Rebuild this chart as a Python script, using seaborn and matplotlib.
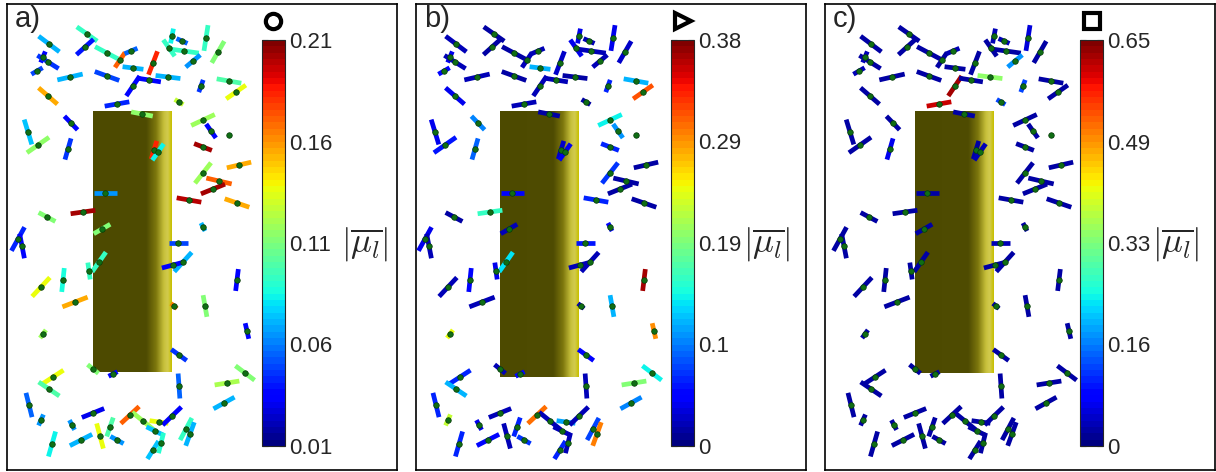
import numpy as np
import matplotlib
matplotlib.use("Agg")
import matplotlib.pyplot as plt
import seaborn as sns
from matplotlib.collections import LineCollection
from matplotlib.colors import Normalize, LinearSegmentedColormap
from matplotlib.cm import ScalarMappable

# dipole centres (pixel coords of panel a), orientation (deg) and projected length (px)
seg_x = [49, 87, 85, 107, 120, 131, 153, 133, 43, 48, 37, 70, 107, 133, 149, 168,
         172, 182, 169, 184, 206, 218, 193, 201, 229, 236, 179, 48, 117, 142, 71, 28,
         38, 68, 203, 211, 229, 203, 154, 158, 105, 83, 47, 102, 18, 22, 99, 89,
         63, 41, 75, 203, 239, 219, 213, 189, 237, 203, 178, 183, 173, 237, 205, 174,
         43, 247, 179, 93, 113, 53, 49, 179, 245, 227, 29, 224, 93, 130, 143, 159,
         172, 41, 72, 100, 110, 117, 81, 52, 155, 161, 153, 186, 190]
seg_y = [44, 34, 47, 53, 60, 51, 63, 68, 57, 62, 71, 77, 76, 86, 80, 77,
         36, 41, 48, 51, 38, 52, 61, 86, 81, 92, 102, 96, 104, 114, 123, 132,
         145, 149, 120, 131, 135, 147, 150, 152, 193, 212, 217, 229, 239, 246, 262, 271,
         280, 287, 302, 173, 165, 181, 189, 200, 203, 227, 243, 262, 265, 280, 306, 306,
         334, 331, 355, 369, 374, 377, 389, 386, 373, 383, 405, 403, 413, 415, 421, 422,
         416, 420, 425, 436, 427, 440, 440, 444, 431, 443, 450, 429, 434]
seg_ang = [-37, -35, 42, -28, 56, 23, 69, -7, 67, -32, 30, 13, -20, 56, -9, -7,
           79, -24, -55, -8, 81, 60, 40, 70, -10, 35, -31, -41, 10, -11, -46, -73,
           35, 74, 25, -55, 0, -21, 73, 55, 0, 8, -28, 30, 61, -79, 55, -82,
           84, 47, 21, 52, 13, -13, 22, -10, -19, -63, 0, 48, 15, 83, -80, -40,
           54, -77, -36, -39, 27, 33, -34, -86, -37, 9, -76, 29, 22, 43, -39, -8,
           44, 66, -62, -75, 71, -29, 27, 74, -26, 76, 58, 62, 70]
seg_len = [26, 25, 23, 27, 18, 14, 25, 21, 12, 25, 13, 26, 26, 24, 24, 25,
           15, 12, 20, 30, 26, 25, 19, 13, 25, 24, 10, 25, 25, 22, 19, 26,
           27, 22, 26, 17, 3, 19, 19, 20, 23, 25, 19, 19, 27, 25, 24, 17,
           24, 26, 27, 26, 25, 26, 26, 25, 26, 9, 19, 26, 23, 22, 22, 8,
           10, 16, 19, 14, 10, 25, 25, 25, 24, 25, 25, 24, 24, 25, 28, 19,
           26, 12, 11, 26, 20, 15, 25, 26, 19, 21, 21, 25, 25]

# |mu_l| of each dipole for the three cases
val_a = [0.07, 0.094, 0.04, 0.094, 0.17, 0.054, 0.184, 0.07, 0.036, 0.046, 0.05, 0.07, 0.05, 0.038, 0.038, 0.07,
         0.082, 0.054, 0.094, 0.094, 0.094, 0.11, 0.066, 0.046, 0.098, 0.138, 0.126, 0.154, 0.042, 0.114, 0.038, 0.074,
         0.114, 0.046, 0.118, 0.038, 0.086, 0.202, 0.184, 0.082, 0.066, 0.202, 0.11, 0.11, 0.042, 0.038, 0.094, 0.094,
         0.086, 0.138, 0.154, 0.118, 0.154, 0.17, 0.202, 0.2, 0.154, 0.07, 0.05, 0.07, 0.034, 0.034, 0.11, 0.166,
         0.118, 0.036, 0.046, 0.11, 0.038, 0.138, 0.098, 0.054, 0.11, 0.122, 0.054, 0.07, 0.03, 0.17, 0.118, 0.138,
         0.034, 0.066, 0.066, 0.138, 0.098, 0.066, 0.07, 0.082, 0.074, 0.09, 0.074, 0.094, 0.07]
val_b = [0.02, 0.015, 0.012, 0.015, 0.02, 0.02, 0.025, 0.114, 0.04, 0.02, 0.05, 0.02, 0.015, 0.02, 0.02, 0.015,
         0.04, 0.02, 0.04, 0.02, 0.04, 0.025, 0.02, 0.06, 0.114, 0.31, 0.015, 0.04, 0.02, 0.015, 0.095, 0.04,
         0.057, 0.087, 0.137, 0.106, 0.012, 0.06, 0.025, 0.04, 0.05, 0.16, 0.015, 0.02, 0.04, 0.02, 0.133, 0.04,
         0.05, 0.02, 0.02, 0.07, 0.015, 0.015, 0.015, 0.06, 0.015, 0.05, 0.055, 0.02, 0.02, 0.365, 0.114, 0.02,
         0.243, 0.29, 0.045, 0.02, 0.05, 0.06, 0.114, 0.02, 0.137, 0.19, 0.06, 0.095, 0.02, 0.3, 0.02, 0.11,
         0.02, 0.22, 0.04, 0.02, 0.06, 0.07, 0.05, 0.06, 0.02, 0.02, 0.065, 0.075, 0.296]
val_c = [0.03, 0.03, 0.025, 0.03, 0.03, 0.035, 0.03, 0.03, 0.04, 0.03, 0.04, 0.03, 0.03, 0.62, 0.03, 0.34,
         0.035, 0.04, 0.03, 0.03, 0.06, 0.03, 0.18, 0.13, 0.03, 0.03, 0.13, 0.03, 0.6, 0.03, 0.03, 0.03,
         0.03, 0.07, 0.03, 0.03, 0.02, 0.03, 0.03, 0.035, 0.03, 0.03, 0.03, 0.03, 0.03, 0.03, 0.03, 0.03,
         0.03, 0.03, 0.03, 0.03, 0.03, 0.03, 0.03, 0.03, 0.03, 0.03, 0.035, 0.03, 0.03, 0.03, 0.03, 0.03,
         0.03, 0.03, 0.03, 0.03, 0.03, 0.03, 0.03, 0.03, 0.03, 0.03, 0.03, 0.03, 0.03, 0.03, 0.03, 0.03,
         0.03, 0.03, 0.03, 0.03, 0.03, 0.03, 0.03, 0.03, 0.03, 0.03, 0.03, 0.03, 0.03]

panel_vals = [val_a, val_b, val_c]
panel_tags = ["a)", "b)", "c)"]
panel_markers = ["o", ">", "s"]
cbar_range = [(0.01, 0.21), (0.0, 0.38), (0.0, 0.65)]
cbar_labels = [["0.01", "0.06", "0.11", "0.16", "0.21"],
               ["0", "0.1", "0.19", "0.29", "0.38"],
               ["0", "0.16", "0.33", "0.49", "0.65"]]

sns.set_style("white")
plt.rcParams["font.family"] = ["Liberation Sans", "DejaVu Sans"]
plt.rcParams["mathtext.fontset"] = "cm"

W, H = 1216, 472
fig = plt.figure(figsize=(W / 100, H / 100), dpi=100)
jet = plt.get_cmap("jet", 64)
cyl_cmap = LinearSegmentedColormap.from_list(
    "cyl", [(0, "#4d4a00"), (0.68, "#4f4c02"), (0.8, "#7d770d"), (0.9, "#c6bf3a"),
            (0.95, "#d2cb50"), (1, "#c8c000")])

panel_left = [7, 416, 825]
x_shift = [0, -2, 4]
rect_bottom = [372, 377, 373]
sym_x = [273, 683, 1092]
lab_x = [341, 743, 1152]

ang = np.deg2rad(seg_ang)
half = np.array(seg_len) / 2
dx = half * np.cos(ang)
dy = -half * np.sin(ang)
xs = np.array(seg_x, float)
ys = np.array(seg_y, float)
segs = [[(x - a, y - b), (x + a, y + b)] for x, y, a, b in zip(xs, ys, dx, dy)]

for i in range(3):
    L = panel_left[i]
    xlo = 7 - x_shift[i]
    ax = fig.add_axes([L / W, (H - 470) / H, 390 / W, 466 / H])

    # cylinder
    grad = np.linspace(0, 1, 200)[None, :]
    ax.imshow(grad, cmap=cyl_cmap, extent=[93, 172, rect_bottom[i], 111],
              aspect="auto", zorder=1, interpolation="bilinear")

    vmin, vmax = cbar_range[i]
    norm = Normalize(vmin, vmax)
    lc = LineCollection(segs, colors=jet(norm(panel_vals[i])), linewidths=3.4,
                        capstyle="butt", zorder=3)
    ax.add_collection(lc)
    sns.scatterplot(x=xs, y=ys, ax=ax, color="#0f6e14", s=16, edgecolor="#073a07",
                    linewidth=0.5, zorder=4, legend=False)

    ax.plot([sym_x[i] - L + xlo], [21], marker=panel_markers[i], markersize=11,
            mfc="none", mec="black", mew=3, zorder=5, clip_on=False)

    ax.set_xlim(xlo, xlo + 390)
    ax.set_ylim(470, 4)
    ax.set_xticks([])
    ax.set_yticks([])
    ax.set_xlabel("")
    ax.set_ylabel("")
    for sp in ax.spines.values():
        sp.set_color("black")
        sp.set_linewidth(1.2)

    fig.text((L + 8) / W, 1 - 5 / H, panel_tags[i], fontsize=21, va="top", ha="left")

    # colorbar
    cax = fig.add_axes([(L + 255) / W, (H - 446) / H, 23 / W, 406 / H])
    cb = fig.colorbar(ScalarMappable(norm=norm, cmap=jet), cax=cax)
    cb.outline.set_linewidth(0.8)
    ticks = np.linspace(vmin, vmax, 5)
    cb.set_ticks(ticks)
    cb.set_ticklabels(cbar_labels[i])
    cax.set_yticks(np.linspace(vmin, vmax, 9), minor=True)
    cax.tick_params(which="both", direction="in", length=4, width=0.8, labelsize=16,
                    right=True, left=True, pad=3)
    cax.tick_params(axis="y", labelleft=False, labelright=True)

    fig.text(lab_x[i] / W, 1 - 244 / H, r"$|\overline{\mu_l}|$", fontsize=25,
             va="center", ha="left")

fig.savefig("out.png", dpi=100)
